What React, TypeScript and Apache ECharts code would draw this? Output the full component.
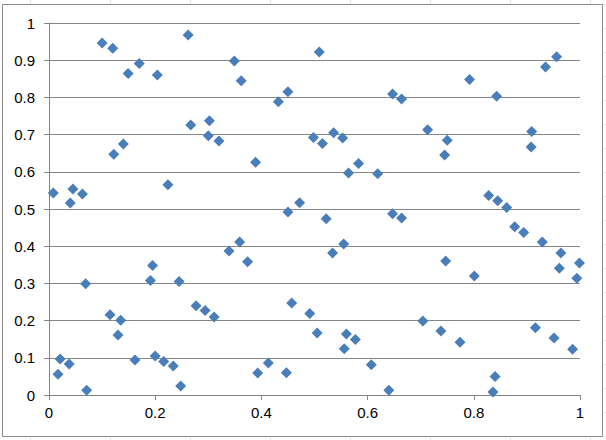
import React, { useEffect, useRef } from "react";
import * as echarts from "echarts";

const xValues = [
  0.008, 0.040, 0.045, 0.063, 0.100, 0.120, 0.149, 0.170, 0.204, 0.262,
  0.267, 0.302, 0.300, 0.320, 0.122, 0.140, 0.224, 0.349, 0.362, 0.509,
  0.432, 0.450, 0.647, 0.664, 0.389, 0.498, 0.515, 0.536, 0.553, 0.564,
  0.583, 0.619, 0.450, 0.472, 0.522, 0.647, 0.664, 0.792, 0.843, 0.935,
  0.956, 0.713, 0.750, 0.745, 0.909, 0.908, 0.828, 0.845, 0.862, 0.069,
  0.017, 0.021, 0.038, 0.071, 0.115, 0.135, 0.130, 0.162, 0.195, 0.191,
  0.245, 0.200, 0.216, 0.234, 0.248, 0.277, 0.294, 0.339, 0.359, 0.374,
  0.534, 0.555, 0.311, 0.457, 0.491, 0.505, 0.560, 0.577, 0.556, 0.413,
  0.393, 0.447, 0.607, 0.640, 0.877, 0.894, 0.929, 0.964, 0.961, 0.999,
  0.994, 0.747, 0.801, 0.704, 0.738, 0.774, 0.916, 0.951, 0.986, 0.840,
  0.836,
];

const yValues = [
  0.543, 0.516, 0.554, 0.540, 0.946, 0.932, 0.864, 0.891, 0.860, 0.968,
  0.726, 0.737, 0.697, 0.683, 0.647, 0.675, 0.565, 0.898, 0.845, 0.922,
  0.788, 0.815, 0.809, 0.796, 0.626, 0.692, 0.676, 0.705, 0.691, 0.597,
  0.622, 0.595, 0.492, 0.517, 0.474, 0.487, 0.476, 0.848, 0.803, 0.882,
  0.909, 0.713, 0.685, 0.645, 0.708, 0.667, 0.536, 0.522, 0.504, 0.299,
  0.056, 0.097, 0.083, 0.013, 0.216, 0.201, 0.161, 0.094, 0.348, 0.308,
  0.305, 0.105, 0.090, 0.078, 0.024, 0.240, 0.227, 0.387, 0.411, 0.358,
  0.382, 0.406, 0.210, 0.247, 0.219, 0.167, 0.164, 0.149, 0.124, 0.086,
  0.059, 0.060, 0.081, 0.013, 0.452, 0.437, 0.411, 0.382, 0.341, 0.355,
  0.314, 0.360, 0.320, 0.199, 0.172, 0.142, 0.181, 0.153, 0.123, 0.050,
  0.008,
];

const xTicks = [0, 0.2, 0.4, 0.6, 0.8, 1];
const yTicks = [0, 0.1, 0.2, 0.3, 0.4, 0.5, 0.6, 0.7, 0.8, 0.9, 1];

export default function App() {
  const ref = useRef<HTMLDivElement>(null);

  useEffect(() => {
    if (!ref.current) return;
    const chart = echarts.init(ref.current, undefined, { renderer: "svg" });
    const axisColor = "#868686";
    const labelFont = {
      color: "#000",
      fontSize: 15,
      fontFamily: "Liberation Sans, Arial, sans-serif",
    };
    const cellLines: any[] = [];
    for (let x = 30; x < 606; x += 80) {
      cellLines.push({
        type: "line",
        shape: { x1: x + 0.5, y1: 0, x2: x + 0.5, y2: 4 },
        style: { stroke: "#e2e2e2", lineWidth: 1 },
        silent: true,
      });
      cellLines.push({
        type: "line",
        shape: { x1: x + 0.5, y1: 437, x2: x + 0.5, y2: 440 },
        style: { stroke: "#e2e2e2", lineWidth: 1 },
        silent: true,
      });
    }
    for (let y = 4; y < 440; y += 24) {
      cellLines.push({
        type: "line",
        shape: { x1: 603, y1: y + 0.5, x2: 606, y2: y + 0.5 },
        style: { stroke: "#e2e2e2", lineWidth: 1 },
        silent: true,
      });
    }
    chart.setOption({
      animation: false,
      backgroundColor: "#fff",
      grid: { left: 49, right: 26, top: 23, bottom: 45, containLabel: false },
      xAxis: {
        type: "value",
        min: 0,
        max: 1,
        interval: 0.2,
        axisLine: { show: true, lineStyle: { color: axisColor, width: 1 } },
        axisTick: { show: true, inside: false, length: 5, lineStyle: { color: axisColor } },
        splitLine: { show: false },
        axisLabel: {
          ...labelFont,
          margin: 10,
          formatter: (v: number) => {
            const t = xTicks.find((k) => Math.abs(k - v) < 1e-6);
            return t === undefined ? "" : String(t);
          },
        },
      },
      yAxis: {
        type: "value",
        min: 0,
        max: 1,
        interval: 0.1,
        axisLine: { show: true, lineStyle: { color: axisColor, width: 1 } },
        axisTick: { show: true, inside: false, length: 5, lineStyle: { color: axisColor } },
        splitLine: { show: true, lineStyle: { color: axisColor, width: 1 } },
        axisLabel: {
          ...labelFont,
          margin: 14,
          formatter: (v: number) => {
            const t = yTicks.find((k) => Math.abs(k - v) < 1e-6);
            return t === undefined ? "" : String(t);
          },
        },
      },
      graphic: [
        ...cellLines,
        {
          type: "rect",
          shape: { x: 2.5, y: 4.5, width: 600, height: 432 },
          style: { fill: "none", stroke: "#8c8c8c", lineWidth: 1 },
          silent: true,
        },
      ],
      series: [
        {
          type: "scatter",
          symbol: "diamond",
          symbolSize: 11,
          itemStyle: { color: "#4A7EBB", opacity: 1 },
          data: xValues.map((x, i) => [x, yValues[i]]),
        },
      ],
    });
    return () => chart.dispose();
  }, []);

  return (
    <div
      ref={ref}
      style={{ position: "absolute", left: 0, top: 0, width: 606, height: 440 }}
    />
  );
}
